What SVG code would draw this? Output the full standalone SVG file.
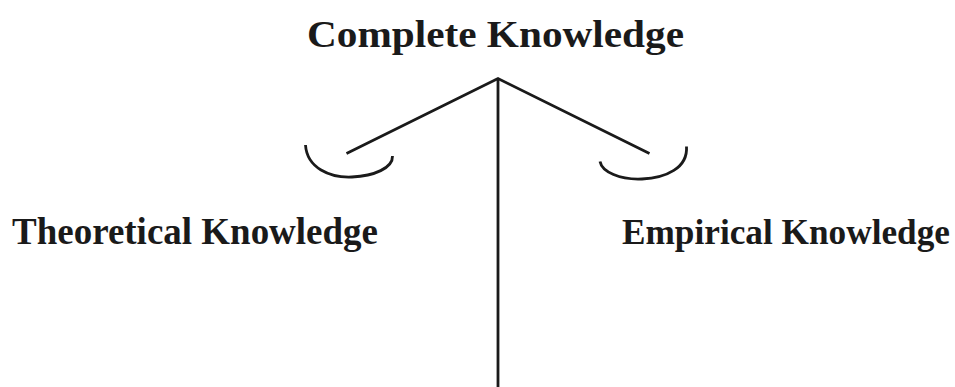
<svg xmlns="http://www.w3.org/2000/svg" width="955" height="387" viewBox="0 0 955 387">
<style>
.lbl{font-family:"Liberation Serif","Times New Roman",serif;font-weight:bold;fill:#1a1a1a;font-size:37px}
.ln{fill:none;stroke:#1a1a1a;stroke-width:2.8;stroke-linecap:butt}
</style>
<rect width="955" height="387" fill="#ffffff"/>
<g id="connectors">
<path class="ln" d="M346.5,153.5 L498,78.5 L649.5,153.5"/>
<path class="ln" d="M498,78.5 L498,387"/>
<path class="ln" d="M305.5,145 C307,168 330,178 352,177 C374,176 393,168 392.5,156"/>
<path class="ln" d="M600,161.5 C602,172 620,180 642,179 C666,178 688,168 686.5,146.5"/>
</g>
<g id="node-complete">
<text class="lbl" x="307" y="47" textLength="377" lengthAdjust="spacingAndGlyphs">Complete Knowledge</text>
</g>
<g id="node-theoretical">
<text class="lbl" x="12" y="244" textLength="366" lengthAdjust="spacingAndGlyphs">Theoretical Knowledge</text>
</g>
<g id="node-empirical">
<text class="lbl" x="622" y="244" style="font-size:35px" textLength="328" lengthAdjust="spacingAndGlyphs">Empirical Knowledge</text>
</g>
</svg>
